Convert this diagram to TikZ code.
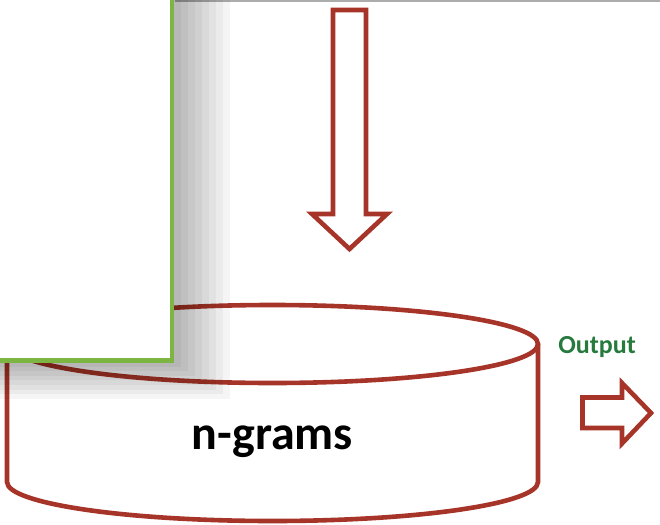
\documentclass[tikz,border=0pt]{standalone}
\usepackage{fontspec}
\setmainfont{Carlito}
\definecolor{brickred}{RGB}{166,52,40}
\definecolor{leafgreen}{RGB}{124,181,66}
\definecolor{labelgreen}{RGB}{38,122,62}
\tikzset{
  outline/.style={draw=brickred, line width=4.6pt, line join=miter, fill=white},
  panel/.style={draw=leafgreen, line width=4.5pt, fill=white},
  shadowstep/.style={fill=black, fill opacity=0.04, draw=none}
}
\begin{document}
\begin{tikzpicture}[x=1pt, y=-1pt]
\useasboundingbox (0,0) rectangle (660,524);

% thin rule along the top edge
\draw[gray!65, line width=2.5pt] (175,1.2) -- (662,1.2);

% database cylinder
\draw[outline] (7,344) -- (7,482) arc[start angle=180, end angle=0, x radius=265.5, y radius=39]
  -- (538,344);
\draw[outline] (272.5,344) ellipse[x radius=265.5, y radius=39];
\node[font=\bfseries\fontsize{48}{52}\selectfont, anchor=base] (ngrams) at (272.5,449) {n-grams};

% downward block arrow
\draw[outline] (333,10) -- (366,10) -- (366,214) -- (387,214) -- (349.5,249)
  -- (312,214) -- (333,214) -- cycle;

% output block arrow
\draw[outline] (582.5,397.5) -- (622,397.5) -- (622,383) -- (651,413) -- (622,443.5)
  -- (622,428) -- (582.5,428) -- cycle;
\node[font=\bfseries\fontsize{26}{29}\selectfont, text=labelgreen, anchor=base] (output) at (597,353) {Output};

% soft stepped shadow of the panel
\foreach \i in {1,...,8}{
  \fill[shadowstep] (-20,-20) rectangle ({174+7*\i},{362+4.6*\i});
}

% white panel with green border
\draw[panel] (-20,-20) rectangle (172,360.5);
\end{tikzpicture}
\end{document}
